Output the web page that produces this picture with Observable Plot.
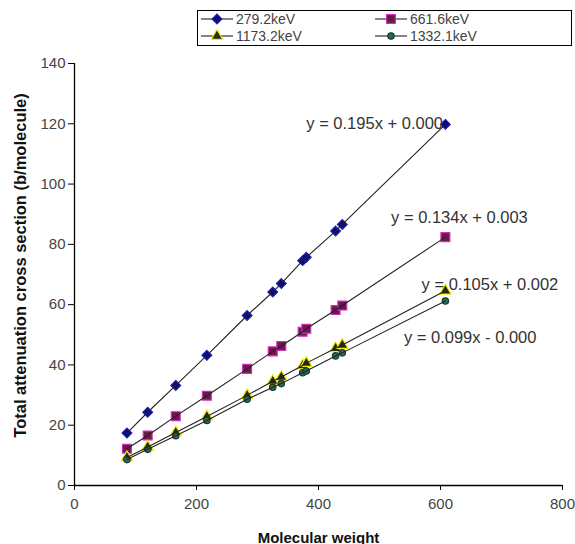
<!DOCTYPE html>
<html>
<head>
<meta charset="utf-8">
<script src="https://cdn.jsdelivr.net/npm/d3@7"></script>
<script src="https://cdn.jsdelivr.net/npm/@observablehq/plot@0.6"></script>
<style>
  html, body { margin: 0; padding: 0; background: #fff; }
  #wrap { position: relative; width: 575px; height: 544px; overflow: hidden; font-family: "Liberation Sans", Arial, sans-serif; }
  #chart { position: absolute; left: 0; top: 0; }
  #legend { position: absolute; left: 197px; top: 10px; width: 373px; height: 34px; border: 1px solid #000; background: #fff; }
  .entry { position: absolute; height: 16px; display: flex; align-items: center; font-size: 14px; color: #444; white-space: nowrap; }
  .entry svg { margin-right: 3px; }
</style>
</head>
<body>
<div id="wrap">
  <div id="chart"></div>
  <div id="legend"></div>
</div>
<script>
// ---- data ----
const molecularWeight = [86, 120, 166, 217, 283, 325, 339, 374, 380, 428, 439, 608];
const s279 = [17.4, 24.3, 33.2, 43.2, 56.4, 64.2, 67.0, 74.6, 75.7, 84.4, 86.6, 119.8];
const s661 = [12.2, 16.6, 23.0, 29.8, 38.7, 44.5, 46.3, 51.0, 52.0, 58.2, 59.7, 82.4];
const s1173 = [9.3, 12.8, 17.6, 22.9, 29.9, 34.6, 36.0, 39.8, 40.6, 45.5, 46.6, 64.6];
const s1332 = [8.6, 12.0, 16.5, 21.6, 28.6, 32.6, 33.8, 37.4, 38.0, 43.0, 44.0, 61.2];
const seriesNames = ["279.2keV", "661.6keV", "1173.2keV", "1332.1keV"];
const eqText = ["y = 0.195x + 0.000", "y = 0.134x + 0.003", "y = 0.105x + 0.002", "y = 0.099x - 0.000"];
const eqX = [380, 519, 569, 540];
const eqY = [120, 89, 66.7, 48.9];
const xTicks = [0, 200, 400, 600, 800];
const yTicks = [0, 20, 40, 60, 80, 100, 120, 140];

const styles = [
  {symbol: "diamond2", fill: "#0a0a80", stroke: "#2020a8", r: 4.4},
  {symbol: "square", fill: "#6a1a48", stroke: "#d42ac0", r: 5},
  {symbol: "triangle", fill: "#2a2a10", stroke: "#eeee10", r: 4.2},
  {symbol: "circle", fill: "#2a6a5a", stroke: "#1a3a30", r: 3.2}
];

const values = [s279, s661, s1173, s1332];
const rows = values.flatMap((vals, k) => vals.map((v, i) => ({x: molecularWeight[i], y: v, series: seriesNames[k]})));
const eqs = eqText.map((t, i) => ({t, x: eqX[i], y: eqY[i]}));

const dotMarks = seriesNames.map((name, k) =>
  Plot.dot(rows.filter(d => d.series === name), {
    x: "x", y: "y", symbol: styles[k].symbol, r: styles[k].r,
    fill: styles[k].fill, stroke: styles[k].stroke, strokeWidth: 1.2
  })
);

const chart = Plot.plot({
  width: 575,
  height: 544,
  marginLeft: 74,
  marginRight: 13,
  marginTop: 63,
  marginBottom: 59,
  style: {fontFamily: "Liberation Sans, Arial, sans-serif", background: "#fff"},
  x: {domain: [0, 800]},
  y: {domain: [0, 140]},
  marks: [
    Plot.axisX({ticks: xTicks, tickSize: 5, tickPadding: 8, fontSize: 15, fill: "#444", stroke: "#000", label: null}),
    Plot.axisY({ticks: yTicks, tickSize: 6, tickPadding: 3, fontSize: 15, fill: "#444", stroke: "#000", label: null}),
    Plot.ruleY([0], {stroke: "#000", strokeWidth: 1.3}),
    Plot.ruleX([0], {stroke: "#000", strokeWidth: 1.3}),
    ...dotMarks,
    Plot.line(rows, {x: "x", y: "y", z: "series", stroke: "#222", strokeWidth: 1.1}),
    Plot.text(eqs, {x: "x", y: "y", text: "t", textAnchor: "start", fontSize: 16.5, fill: "#333"}),
    Plot.text(["Molecular weight"], {frameAnchor: "bottom", dy: 57, fontSize: 15, fontWeight: "bold", fill: "#111"}),
    Plot.text(["Total attenuation cross section (b/molecule)"], {frameAnchor: "left", textAnchor: "middle", dx: -54, dy: -9, rotate: -90, fontSize: 16.5, fontWeight: "bold", fill: "#111"})
  ]
});
document.getElementById("chart").appendChild(chart);

// ---- legend ----
function symbolSvg(k) {
  const s = styles[k];
  const sym = {diamond2: d3.symbolDiamond2, square: d3.symbolSquare, triangle: d3.symbolTriangle, circle: d3.symbolCircle}[s.symbol];
  const path = d3.symbol(sym, Math.PI * s.r * s.r)();
  return `<svg width="32" height="14"><line x1="0" x2="32" y1="7" y2="7" stroke="#222" stroke-width="1.1"/>` +
    `<path d="${path}" transform="translate(16,7)" fill="${s.fill}" stroke="${s.stroke}" stroke-width="1.2"/></svg>`;
}
const legend = document.getElementById("legend");
const pos = [[3, 0], [177, 0], [3, 17], [177, 17]];
seriesNames.forEach((name, k) => {
  const e = document.createElement("div");
  e.className = "entry";
  e.style.left = pos[k][0] + "px";
  e.style.top = pos[k][1] + "px";
  e.innerHTML = symbolSvg(k) + `<span>${name}</span>`;
  legend.appendChild(e);
});
</script>
</body>
</html>
